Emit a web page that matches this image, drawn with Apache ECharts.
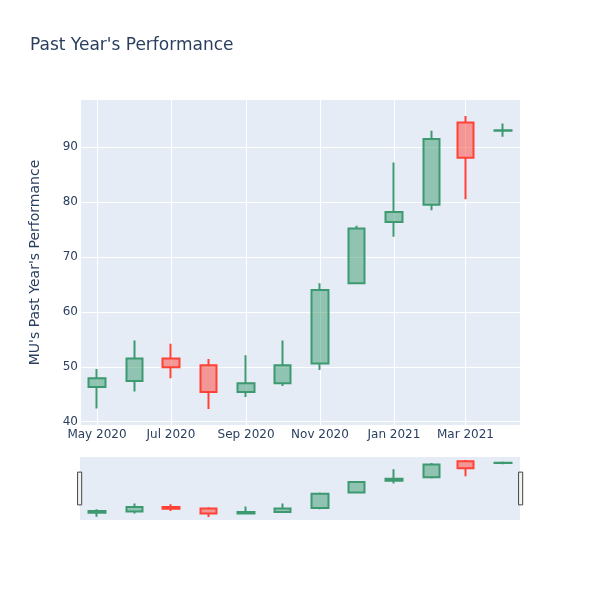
<!DOCTYPE html>
<html>
<head>
<meta charset="utf-8">
<script src="https://cdn.jsdelivr.net/npm/echarts@6/dist/echarts.min.js"></script>
<style>
  html, body { margin: 0; padding: 0; background: #fff; }
  #chart { width: 600px; height: 600px; }
</style>
</head>
<body>
<div id="chart"></div>
<script>
// monthly candles
const months = ["2020-05-01", "2020-06-01", "2020-07-01", "2020-08-01", "2020-09-01", "2020-10-01",
  "2020-11-01", "2020-12-01", "2021-01-01", "2021-02-01", "2021-03-01", "2021-04-01"];
const opens = [46.3, 47.4, 51.5, 50.3, 45.4, 47.0, 50.6, 65.2, 76.4, 79.5, 94.5, 93.0];
const closes = [47.9, 51.5, 49.9, 45.4, 47.0, 50.3, 64.0, 75.2, 78.2, 91.5, 88.1, 93.1];
const lows = [42.4, 45.5, 47.9, 42.3, 44.5, 46.5, 49.4, 65.2, 73.7, 78.5, 80.5, 91.9];
const highs = [49.6, 54.8, 54.2, 51.4, 52.1, 54.8, 65.2, 75.7, 87.2, 93.0, 95.7, 94.3];
const monthNames = ["Jan", "Feb", "Mar", "Apr", "May", "Jun", "Jul", "Aug", "Sep", "Oct", "Nov", "Dec"];

const DAY = 86400000;
const ts = (s) => Date.parse(s + "T00:00:00Z");
const candles = months.map((m, i) => [ts(m), opens[i], closes[i], lows[i], highs[i]]);
const xMin = ts("2020-04-17");
const xMax = ts("2021-04-15");

const font = '"DejaVu Sans", Verdana, sans-serif';
const txt = "#2a3f5f";
const candleStyle = {
  color: "rgba(61,153,112,0.5)",
  color0: "rgba(255,65,54,0.5)",
  borderColor: "#3D9970",
  borderColor0: "#FF4136",
  borderWidth: 2,
};

const chart = echarts.init(document.getElementById("chart"));
const option = {
  useUTC: true,
  animation: false,
  backgroundColor: "#fff",
  title: {
    text: "Past Year's Performance",
    left: 25,
    top: 32,
    textStyle: { fontFamily: font, fontSize: 17, fontWeight: "normal", color: txt },
  },
  grid: [
    { left: 80, right: 80, top: 100, height: 325, show: true, backgroundColor: "#E5ECF6", borderWidth: 0 },
    { left: 80, right: 80, top: 457, height: 63, show: true, backgroundColor: "#E5ECF6", borderWidth: 0 },
  ],
  xAxis: [
    {
      type: "time",
      gridIndex: 0,
      min: xMin,
      max: xMax,
      minInterval: 62 * DAY,
      maxInterval: 62 * DAY,
      axisLine: { show: false },
      axisTick: { show: false },
      axisLabel: {
        color: txt,
        fontFamily: font,
        fontSize: 12,
        margin: 4,
        hideOverlap: false,
        formatter: (v) => {
          const d = new Date(v);
          return monthNames[d.getUTCMonth()] + " " + d.getUTCFullYear();
        },
      },
      splitLine: { show: true, lineStyle: { color: "#fff", width: 1 } },
    },
    {
      type: "time",
      gridIndex: 1,
      min: xMin,
      max: xMax,
      axisLine: { show: false },
      axisTick: { show: false },
      axisLabel: { show: false },
      splitLine: { show: false },
    },
  ],
  yAxis: [
    {
      type: "value",
      gridIndex: 0,
      min: 39.4,
      max: 98.6,
      splitNumber: 6,
      name: "MU's Past Year's Performance",
      nameLocation: "middle",
      nameGap: 38,
      nameTextStyle: { fontFamily: font, fontSize: 14, color: txt },
      axisLine: { show: false },
      axisTick: { show: false },
      axisLabel: { color: txt, fontFamily: font, fontSize: 12, margin: 2, showMinLabel: false, showMaxLabel: false },
      splitLine: { show: true, showMinLine: false, showMaxLine: false, lineStyle: { color: "#fff", width: 1 } },
    },
    {
      type: "value",
      gridIndex: 1,
      min: 39.4,
      max: 98.6,
      axisLine: { show: false },
      axisTick: { show: false },
      axisLabel: { show: false },
      splitLine: { show: false },
    },
  ],
  dataZoom: [
    {
      type: "slider",
      xAxisIndex: 0,
      filterMode: "none",
      start: 0,
      end: 100,
      left: 78,
      right: 79,
      top: 457,
      height: 63,
      backgroundColor: "rgba(0,0,0,0)",
      fillerColor: "rgba(0,0,0,0)",
      borderColor: "rgba(0,0,0,0)",
      showDetail: false,
      showDataShadow: false,
      brushSelect: false,
      moveHandleSize: 0,
      handleIcon: "path://M0,0H4V32H0Z",
      handleSize: "52%",
      handleStyle: { color: "#f2f2f2", borderColor: "#444", borderWidth: 1 },
      emphasis: { handleStyle: { color: "#f2f2f2", borderColor: "#444" } },
      dataBackground: { lineStyle: { opacity: 0 }, areaStyle: { opacity: 0 } },
      selectedDataBackground: { lineStyle: { opacity: 0 }, areaStyle: { opacity: 0 } },
    },
  ],
  series: [
    {
      type: "candlestick",
      xAxisIndex: 0,
      yAxisIndex: 0,
      barWidth: 17,
      data: candles,
      encode: { x: 0, y: [1, 2, 3, 4] },
      itemStyle: candleStyle,
    },
    {
      type: "candlestick",
      xAxisIndex: 1,
      yAxisIndex: 1,
      barWidth: 17,
      data: candles,
      encode: { x: 0, y: [1, 2, 3, 4] },
      itemStyle: candleStyle,
      silent: true,
    },
  ],
};
option && chart.setOption(option);
</script>
</body>
</html>
